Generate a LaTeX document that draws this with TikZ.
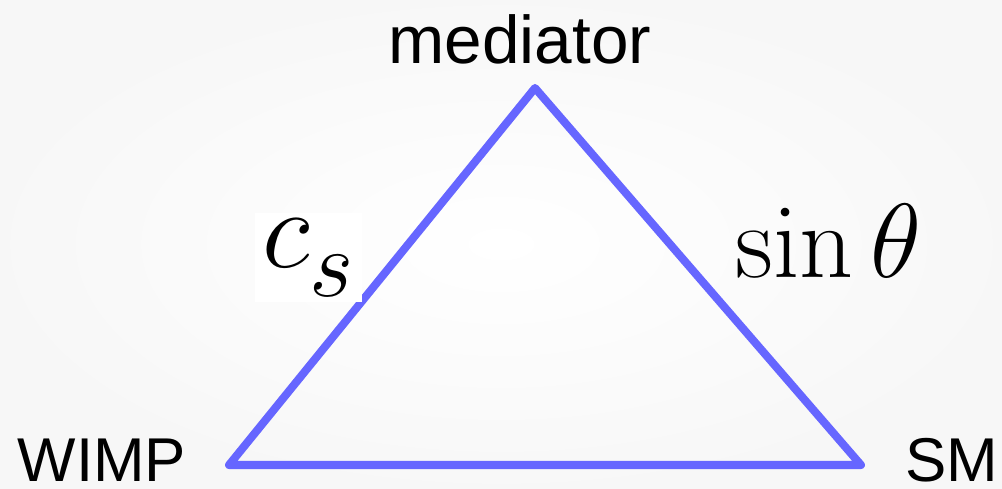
\RequirePackage{fix-cm}
\documentclass[tikz,border=0pt]{standalone}
\usepackage[no-math]{fontspec}
\setmainfont{Liberation Sans}
\usetikzlibrary{positioning}

\definecolor{edgeblue}{RGB}{102,102,255}

\begin{document}
\begin{tikzpicture}[
    x=0.025cm, y=-0.025cm,
    lbl/.style={font=\fontsize{44}{50}\selectfont, inner sep=0pt},
    coupling/.style={font=\fontsize{75}{80}\selectfont, inner sep=0pt}
  ]
        \shade[inner color=white, outer color=black!3] (0,0) rectangle (1002,488);
        \useasboundingbox (0,0) rectangle (1002,488);

        \coordinate (med) at (535,88);
        \coordinate (wimp) at (229,465);
        \coordinate (sm) at (861,465);

        \draw[edgeblue, line width=5.7pt, line join=round, line cap=round]
          (wimp) -- (med) -- (sm) -- cycle;

        \node[lbl, anchor=base, font=\fontsize{48}{56}\selectfont] (medlbl) at (520,63) {mediator};
        \node[lbl, anchor=base] (wimplbl) at (102,481) {WIMP};
        \node[lbl, anchor=base] (smlbl) at (952,481) {SM};

        \node[coupling, font=\fontsize{80}{86}\selectfont, anchor=base west, fill=white,
              inner xsep=5pt, inner ysep=4pt] (cs) at (255,267)
              {$c_{\raisebox{-9pt}{\scalebox{0.85}{$\textstyle s$}}}$};
        \node[coupling, anchor=base west] (sint) at (735,277) {$\sin\theta$};
      \end{tikzpicture}
\end{document}
